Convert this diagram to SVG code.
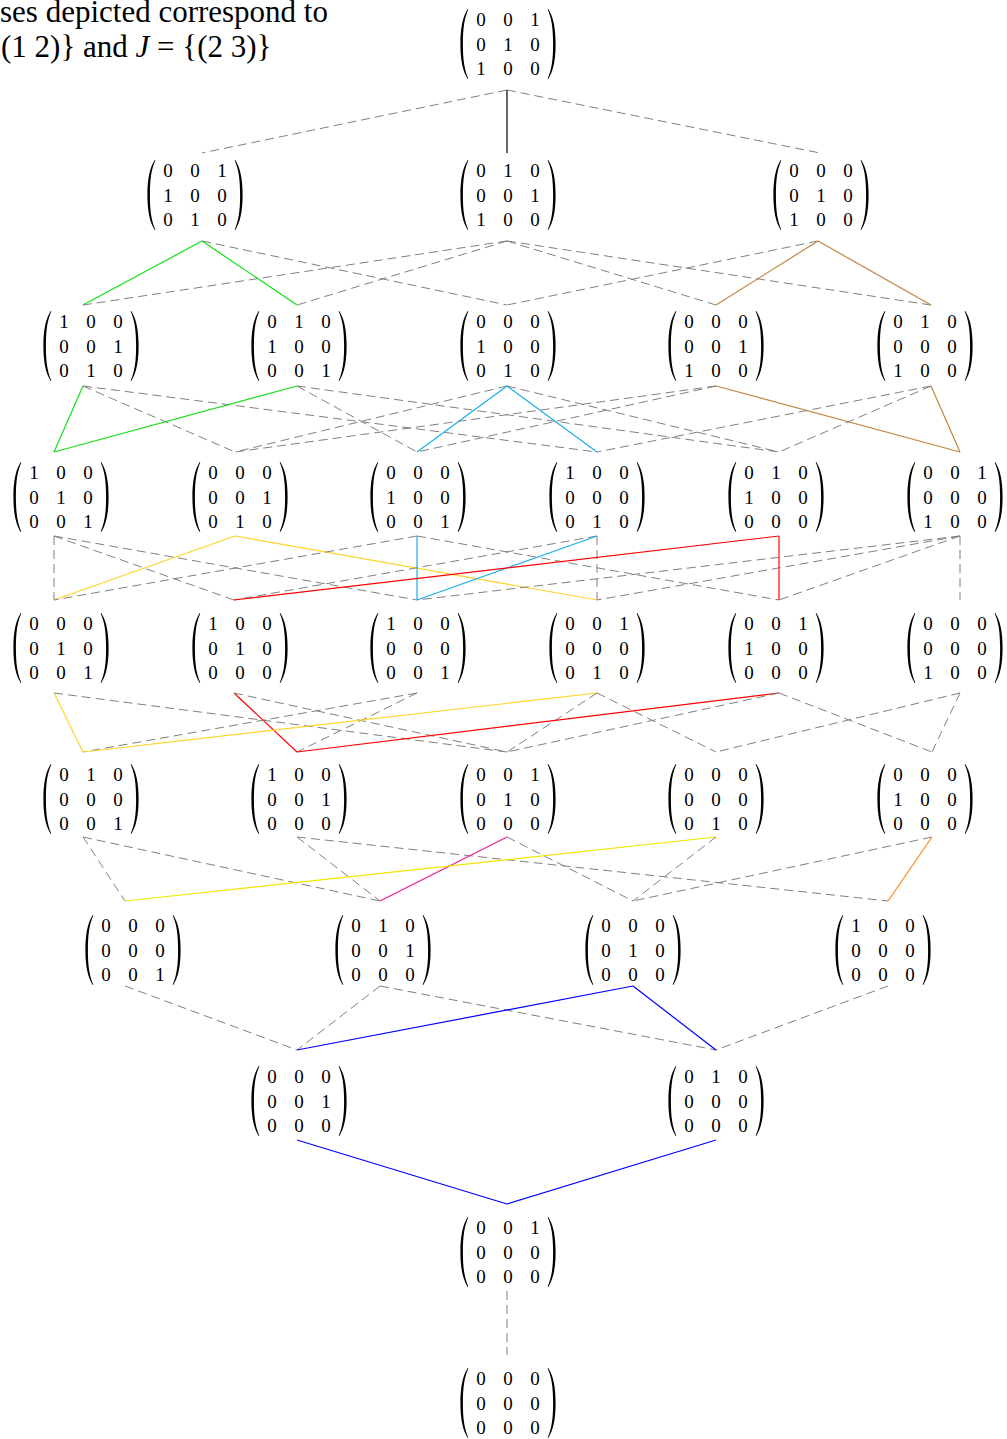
<svg xmlns="http://www.w3.org/2000/svg" width="1007" height="1439" viewBox="0 0 1007 1439">
<style>
.m{font-family:'Liberation Serif','DejaVu Serif',serif;font-size:19px;text-anchor:middle;fill:#000}
.t{font-family:'Liberation Serif','DejaVu Serif',serif;font-size:31px;fill:#000}
.d{stroke:#808080;stroke-width:1;stroke-dasharray:9 5;fill:none}
.s{stroke-width:1.2;fill:none}
.k{stroke:#000}
.g{stroke:#16e016}
.br{stroke:#c4853f}
.cy{stroke:#1caeea}
.go{stroke:#ffd42a}
.ye{stroke:#f2e600}
.r{stroke:#ff0000}
.mg{stroke:#ee1c8c}
.or{stroke:#ff8c1a}
.b{stroke:#0000ff}
</style>
<defs>
<path id="lp" d="M-40.3,-35 C-45.3,-27 -47.6,-16 -47.6,0 C-47.6,16 -45.3,27 -40.3,35 L-39.7,34.4 C-43.5,26 -45.1,16 -45.1,0 C-45.1,-16 -43.5,-26 -39.7,-34.4 Z" fill="#000"/>
<path id="rp" d="M40.3,-35 C45.3,-27 47.6,-16 47.6,0 C47.6,16 45.3,27 40.3,35 L39.7,34.4 C43.5,26 45.1,16 45.1,0 C45.1,-16 43.5,-26 39.7,-34.4 Z" fill="#000"/>
</defs>
<rect width="1007" height="1439" fill="#fff"/>
<g id="caption">
<text class="t" x="0" y="22">ses depicted correspond to</text>
<text class="t" x="1" y="57">(1 2)} and <tspan font-style="italic">J</tspan> = {(2 3)}</text>
</g>
<g id="connectors">
<line class="d" x1="507" y1="90" x2="202" y2="153"/>
<line class="s k" x1="507" y1="90" x2="507" y2="153"/>
<line class="d" x1="507" y1="90" x2="820" y2="153"/>

<line class="s g" x1="202" y1="241" x2="83" y2="305"/>
<line class="s g" x1="202" y1="241" x2="297" y2="305"/>
<line class="d" x1="202" y1="241" x2="507" y2="305"/>
<line class="d" x1="507" y1="241" x2="83" y2="305"/>
<line class="d" x1="507" y1="241" x2="297" y2="305"/>
<line class="d" x1="507" y1="241" x2="716" y2="305"/>
<line class="d" x1="507" y1="241" x2="931" y2="305"/>
<line class="d" x1="818" y1="241" x2="507" y2="305"/>
<line class="s br" x1="818" y1="241" x2="716" y2="305"/>
<line class="s br" x1="818" y1="241" x2="931" y2="305"/>

<line class="s g" x1="83" y1="386" x2="54" y2="452"/>
<line class="d" x1="83" y1="386" x2="235" y2="452"/>
<line class="d" x1="83" y1="386" x2="597" y2="452"/>
<line class="s g" x1="297" y1="386" x2="54" y2="452"/>
<line class="d" x1="297" y1="386" x2="417" y2="452"/>
<line class="d" x1="297" y1="386" x2="779" y2="452"/>
<line class="d" x1="507" y1="386" x2="235" y2="452"/>
<line class="s cy" x1="507" y1="386" x2="417" y2="452"/>
<line class="s cy" x1="507" y1="386" x2="597" y2="452"/>
<line class="d" x1="507" y1="386" x2="779" y2="452"/>
<line class="d" x1="716" y1="386" x2="235" y2="452"/>
<line class="d" x1="716" y1="386" x2="417" y2="452"/>
<line class="s br" x1="716" y1="386" x2="960" y2="452"/>
<line class="d" x1="931" y1="386" x2="597" y2="452"/>
<line class="d" x1="931" y1="386" x2="779" y2="452"/>
<line class="s br" x1="931" y1="386" x2="960" y2="452"/>

<line class="d" x1="54" y1="536" x2="54" y2="600"/>
<line class="d" x1="54" y1="536" x2="234" y2="600"/>
<line class="d" x1="54" y1="536" x2="417" y2="600"/>
<line class="s go" x1="235" y1="536" x2="54" y2="600"/>
<line class="s go" x1="235" y1="536" x2="597" y2="600"/>
<line class="d" x1="417" y1="536" x2="54" y2="600"/>
<line class="s cy" x1="417" y1="536" x2="417" y2="600"/>
<line class="d" x1="417" y1="536" x2="779" y2="600"/>
<line class="d" x1="597" y1="536" x2="234" y2="600"/>
<line class="s cy" x1="597" y1="536" x2="417" y2="600"/>
<line class="d" x1="597" y1="536" x2="597" y2="600"/>
<line class="s r" x1="779" y1="536" x2="234" y2="600"/>
<line class="s r" x1="779" y1="536" x2="779" y2="600"/>
<line class="d" x1="960" y1="536" x2="417" y2="600"/>
<line class="d" x1="960" y1="536" x2="597" y2="600"/>
<line class="d" x1="960" y1="536" x2="779" y2="600"/>
<line class="d" x1="960" y1="536" x2="960" y2="600"/>

<line class="s go" x1="54" y1="693" x2="83" y2="752"/>
<line class="d" x1="54" y1="693" x2="507" y2="752"/>
<line class="s r" x1="234" y1="693" x2="297" y2="752"/>
<line class="d" x1="234" y1="693" x2="507" y2="752"/>
<line class="d" x1="417" y1="693" x2="83" y2="752"/>
<line class="d" x1="417" y1="693" x2="297" y2="752"/>
<line class="s go" x1="597" y1="693" x2="83" y2="752"/>
<line class="d" x1="597" y1="693" x2="507" y2="752"/>
<line class="d" x1="597" y1="693" x2="716" y2="752"/>
<line class="s r" x1="779" y1="693" x2="297" y2="752"/>
<line class="d" x1="779" y1="693" x2="507" y2="752"/>
<line class="d" x1="779" y1="693" x2="932" y2="752"/>
<line class="d" x1="960" y1="693" x2="716" y2="752"/>
<line class="d" x1="960" y1="693" x2="932" y2="752"/>

<line class="d" x1="83" y1="837" x2="125" y2="901"/>
<line class="d" x1="83" y1="837" x2="380" y2="901"/>
<line class="d" x1="297" y1="837" x2="380" y2="901"/>
<line class="d" x1="297" y1="837" x2="888" y2="901"/>
<line class="s mg" x1="507" y1="837" x2="380" y2="901"/>
<line class="d" x1="507" y1="837" x2="633" y2="901"/>
<line class="s ye" x1="716" y1="837" x2="125" y2="901"/>
<line class="d" x1="716" y1="837" x2="633" y2="901"/>
<line class="d" x1="932" y1="837" x2="633" y2="901"/>
<line class="s or" x1="932" y1="837" x2="888" y2="901"/>

<line class="d" x1="125" y1="986" x2="297" y2="1050"/>
<line class="d" x1="380" y1="986" x2="297" y2="1050"/>
<line class="d" x1="380" y1="986" x2="716" y2="1050"/>
<line class="s b" x1="633" y1="986" x2="297" y2="1050"/>
<line class="s b" x1="633" y1="986" x2="716" y2="1050"/>
<line class="d" x1="888" y1="986" x2="716" y2="1050"/>

<line class="s b" x1="297" y1="1140" x2="507" y2="1204"/>
<line class="s b" x1="716" y1="1140" x2="507" y2="1204"/>
<line class="d" x1="507" y1="1291" x2="507" y2="1355"/>
</g>

<g id="n00" transform="translate(508,44)"><use href="#lp"/><use href="#rp"/><text class="m" x="-27 0 27" y="-18">001</text><text class="m" x="-27 0 27" y="6.5">010</text><text class="m" x="-27 0 27" y="31">100</text></g>

<g id="n10" transform="translate(195,195)"><use href="#lp"/><use href="#rp"/><text class="m" x="-27 0 27" y="-18">001</text><text class="m" x="-27 0 27" y="6.5">100</text><text class="m" x="-27 0 27" y="31">010</text></g>
<g id="n11" transform="translate(508,195)"><use href="#lp"/><use href="#rp"/><text class="m" x="-27 0 27" y="-18">010</text><text class="m" x="-27 0 27" y="6.5">001</text><text class="m" x="-27 0 27" y="31">100</text></g>
<g id="n12" transform="translate(821,195)"><use href="#lp"/><use href="#rp"/><text class="m" x="-27 0 27" y="-18">000</text><text class="m" x="-27 0 27" y="6.5">010</text><text class="m" x="-27 0 27" y="31">100</text></g>

<g id="n20" transform="translate(91,346)"><use href="#lp"/><use href="#rp"/><text class="m" x="-27 0 27" y="-18">100</text><text class="m" x="-27 0 27" y="6.5">001</text><text class="m" x="-27 0 27" y="31">010</text></g>
<g id="n21" transform="translate(299,346)"><use href="#lp"/><use href="#rp"/><text class="m" x="-27 0 27" y="-18">010</text><text class="m" x="-27 0 27" y="6.5">100</text><text class="m" x="-27 0 27" y="31">001</text></g>
<g id="n22" transform="translate(508,346)"><use href="#lp"/><use href="#rp"/><text class="m" x="-27 0 27" y="-18">000</text><text class="m" x="-27 0 27" y="6.5">100</text><text class="m" x="-27 0 27" y="31">010</text></g>
<g id="n23" transform="translate(716,346)"><use href="#lp"/><use href="#rp"/><text class="m" x="-27 0 27" y="-18">000</text><text class="m" x="-27 0 27" y="6.5">001</text><text class="m" x="-27 0 27" y="31">100</text></g>
<g id="n24" transform="translate(925,346)"><use href="#lp"/><use href="#rp"/><text class="m" x="-27 0 27" y="-18">010</text><text class="m" x="-27 0 27" y="6.5">000</text><text class="m" x="-27 0 27" y="31">100</text></g>

<g id="n30" transform="translate(61,497)"><use href="#lp"/><use href="#rp"/><text class="m" x="-27 0 27" y="-18">100</text><text class="m" x="-27 0 27" y="6.5">010</text><text class="m" x="-27 0 27" y="31">001</text></g>
<g id="n31" transform="translate(240,497)"><use href="#lp"/><use href="#rp"/><text class="m" x="-27 0 27" y="-18">000</text><text class="m" x="-27 0 27" y="6.5">001</text><text class="m" x="-27 0 27" y="31">010</text></g>
<g id="n32" transform="translate(418,497)"><use href="#lp"/><use href="#rp"/><text class="m" x="-27 0 27" y="-18">000</text><text class="m" x="-27 0 27" y="6.5">100</text><text class="m" x="-27 0 27" y="31">001</text></g>
<g id="n33" transform="translate(597,497)"><use href="#lp"/><use href="#rp"/><text class="m" x="-27 0 27" y="-18">100</text><text class="m" x="-27 0 27" y="6.5">000</text><text class="m" x="-27 0 27" y="31">010</text></g>
<g id="n34" transform="translate(776,497)"><use href="#lp"/><use href="#rp"/><text class="m" x="-27 0 27" y="-18">010</text><text class="m" x="-27 0 27" y="6.5">100</text><text class="m" x="-27 0 27" y="31">000</text></g>
<g id="n35" transform="translate(955,497)"><use href="#lp"/><use href="#rp"/><text class="m" x="-27 0 27" y="-18">001</text><text class="m" x="-27 0 27" y="6.5">000</text><text class="m" x="-27 0 27" y="31">100</text></g>

<g id="n40" transform="translate(61,648)"><use href="#lp"/><use href="#rp"/><text class="m" x="-27 0 27" y="-18">000</text><text class="m" x="-27 0 27" y="6.5">010</text><text class="m" x="-27 0 27" y="31">001</text></g>
<g id="n41" transform="translate(240,648)"><use href="#lp"/><use href="#rp"/><text class="m" x="-27 0 27" y="-18">100</text><text class="m" x="-27 0 27" y="6.5">010</text><text class="m" x="-27 0 27" y="31">000</text></g>
<g id="n42" transform="translate(418,648)"><use href="#lp"/><use href="#rp"/><text class="m" x="-27 0 27" y="-18">100</text><text class="m" x="-27 0 27" y="6.5">000</text><text class="m" x="-27 0 27" y="31">001</text></g>
<g id="n43" transform="translate(597,648)"><use href="#lp"/><use href="#rp"/><text class="m" x="-27 0 27" y="-18">001</text><text class="m" x="-27 0 27" y="6.5">000</text><text class="m" x="-27 0 27" y="31">010</text></g>
<g id="n44" transform="translate(776,648)"><use href="#lp"/><use href="#rp"/><text class="m" x="-27 0 27" y="-18">001</text><text class="m" x="-27 0 27" y="6.5">100</text><text class="m" x="-27 0 27" y="31">000</text></g>
<g id="n45" transform="translate(955,648)"><use href="#lp"/><use href="#rp"/><text class="m" x="-27 0 27" y="-18">000</text><text class="m" x="-27 0 27" y="6.5">000</text><text class="m" x="-27 0 27" y="31">100</text></g>

<g id="n50" transform="translate(91,799)"><use href="#lp"/><use href="#rp"/><text class="m" x="-27 0 27" y="-18">010</text><text class="m" x="-27 0 27" y="6.5">000</text><text class="m" x="-27 0 27" y="31">001</text></g>
<g id="n51" transform="translate(299,799)"><use href="#lp"/><use href="#rp"/><text class="m" x="-27 0 27" y="-18">100</text><text class="m" x="-27 0 27" y="6.5">001</text><text class="m" x="-27 0 27" y="31">000</text></g>
<g id="n52" transform="translate(508,799)"><use href="#lp"/><use href="#rp"/><text class="m" x="-27 0 27" y="-18">001</text><text class="m" x="-27 0 27" y="6.5">010</text><text class="m" x="-27 0 27" y="31">000</text></g>
<g id="n53" transform="translate(716,799)"><use href="#lp"/><use href="#rp"/><text class="m" x="-27 0 27" y="-18">000</text><text class="m" x="-27 0 27" y="6.5">000</text><text class="m" x="-27 0 27" y="31">010</text></g>
<g id="n54" transform="translate(925,799)"><use href="#lp"/><use href="#rp"/><text class="m" x="-27 0 27" y="-18">000</text><text class="m" x="-27 0 27" y="6.5">100</text><text class="m" x="-27 0 27" y="31">000</text></g>

<g id="n60" transform="translate(133,950)"><use href="#lp"/><use href="#rp"/><text class="m" x="-27 0 27" y="-18">000</text><text class="m" x="-27 0 27" y="6.5">000</text><text class="m" x="-27 0 27" y="31">001</text></g>
<g id="n61" transform="translate(383,950)"><use href="#lp"/><use href="#rp"/><text class="m" x="-27 0 27" y="-18">010</text><text class="m" x="-27 0 27" y="6.5">001</text><text class="m" x="-27 0 27" y="31">000</text></g>
<g id="n62" transform="translate(633,950)"><use href="#lp"/><use href="#rp"/><text class="m" x="-27 0 27" y="-18">000</text><text class="m" x="-27 0 27" y="6.5">010</text><text class="m" x="-27 0 27" y="31">000</text></g>
<g id="n63" transform="translate(883,950)"><use href="#lp"/><use href="#rp"/><text class="m" x="-27 0 27" y="-18">100</text><text class="m" x="-27 0 27" y="6.5">000</text><text class="m" x="-27 0 27" y="31">000</text></g>

<g id="n70" transform="translate(299,1101)"><use href="#lp"/><use href="#rp"/><text class="m" x="-27 0 27" y="-18">000</text><text class="m" x="-27 0 27" y="6.5">001</text><text class="m" x="-27 0 27" y="31">000</text></g>
<g id="n71" transform="translate(716,1101)"><use href="#lp"/><use href="#rp"/><text class="m" x="-27 0 27" y="-18">010</text><text class="m" x="-27 0 27" y="6.5">000</text><text class="m" x="-27 0 27" y="31">000</text></g>

<g id="n80" transform="translate(508,1252)"><use href="#lp"/><use href="#rp"/><text class="m" x="-27 0 27" y="-18">001</text><text class="m" x="-27 0 27" y="6.5">000</text><text class="m" x="-27 0 27" y="31">000</text></g>

<g id="n90" transform="translate(508,1403)"><use href="#lp"/><use href="#rp"/><text class="m" x="-27 0 27" y="-18">000</text><text class="m" x="-27 0 27" y="6.5">000</text><text class="m" x="-27 0 27" y="31">000</text></g>
</svg>
